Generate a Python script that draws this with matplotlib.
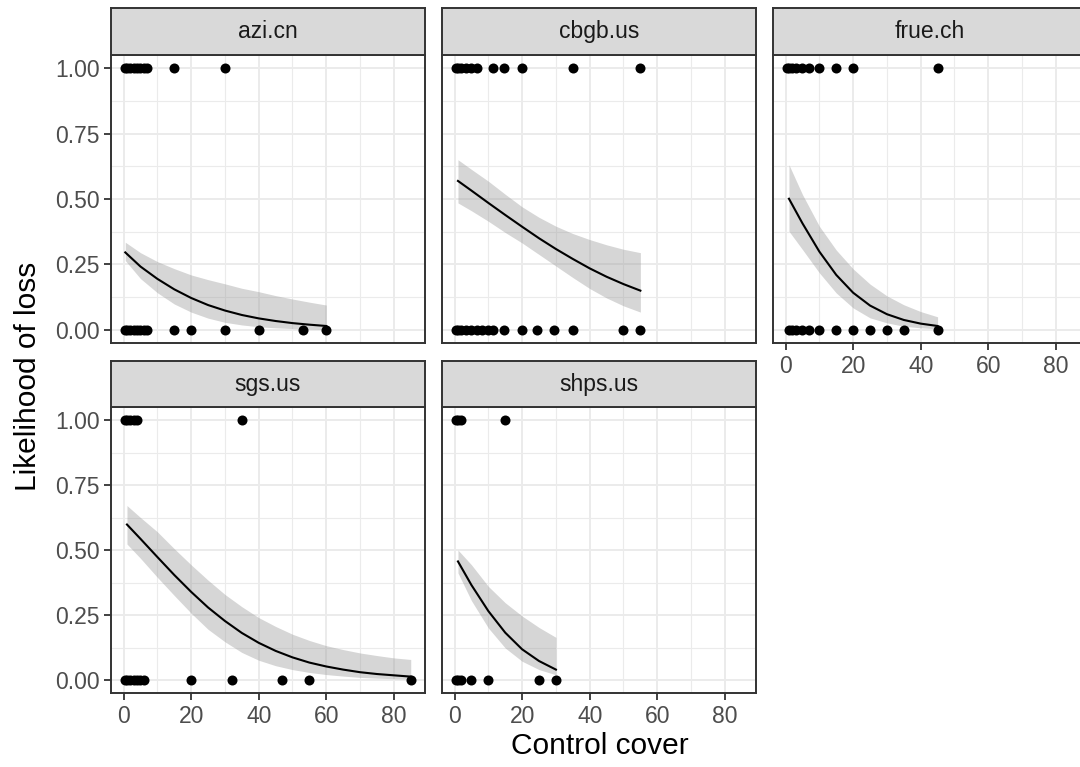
import matplotlib
matplotlib.use("Agg")
import matplotlib.pyplot as plt

plt.rcParams["font.family"] = ["Liberation Sans", "DejaVu Sans"]

# ── data (cover values; loss = 1 / kept = 0) ──
facets = ["azi.cn", "cbgb.us", "frue.ch", "sgs.us", "shps.us"]

azi_loss = [0.5, 1, 2, 3, 4, 5, 6, 7, 15, 30]
azi_kept = [0.5, 1, 2, 3, 4, 5, 6, 7, 15, 20, 30, 40, 53, 60]
cbgb_loss = [0.5, 1, 2, 3.5, 5, 6.5, 11.5, 14.5, 20, 35, 55]
cbgb_kept = [0.5, 1, 2, 3.5, 5, 6.5, 8, 10, 11.5, 14.5, 20, 24.5, 29.5, 35, 50, 55]
frue_loss = [0.5, 1, 2, 3, 5, 7, 10, 15, 20, 45]
frue_kept = [1, 2, 3, 5, 7, 10, 15, 20, 25, 30, 35, 45]
sgs_loss = [0.5, 1, 2, 3, 4, 35]
sgs_kept = [0.5, 1, 2, 3, 4, 5, 6, 20, 32, 47, 55, 85]
shps_loss = [0.5, 1, 2, 15]
shps_kept = [0.5, 1, 2, 5, 10, 25, 30]

# fitted glm curve + 95% band, read at 5-unit steps
azi_fx = [0.5, 5, 10, 15, 20, 25, 30, 35, 40, 45, 50, 55, 60]
azi_fit = [0.296, 0.242, 0.195, 0.155, 0.122, 0.095, 0.074, 0.057, 0.044, 0.034, 0.026, 0.020, 0.015]
azi_hi = [0.335, 0.295, 0.261, 0.234, 0.210, 0.192, 0.176, 0.159, 0.146, 0.131, 0.118, 0.106, 0.095]
azi_lo = [0.265, 0.196, 0.142, 0.099, 0.068, 0.045, 0.029, 0.019, 0.012, 0.008, 0.005, 0.003, 0.002]

cbgb_fx = [1, 5, 10, 15, 20, 25, 30, 35, 40, 45, 50, 55]
cbgb_fit = [0.569, 0.532, 0.485, 0.439, 0.394, 0.350, 0.309, 0.271, 0.235, 0.203, 0.175, 0.150]
cbgb_hi = [0.650, 0.613, 0.568, 0.518, 0.470, 0.430, 0.396, 0.368, 0.345, 0.325, 0.308, 0.295]
cbgb_lo = [0.485, 0.455, 0.415, 0.372, 0.332, 0.288, 0.244, 0.200, 0.158, 0.122, 0.092, 0.068]

frue_fx = [1, 5, 10, 15, 20, 25, 30, 35, 40, 45]
frue_fit = [0.501, 0.407, 0.299, 0.210, 0.142, 0.093, 0.060, 0.038, 0.024, 0.015]
frue_hi = [0.631, 0.517, 0.396, 0.305, 0.233, 0.175, 0.130, 0.096, 0.070, 0.050]
frue_lo = [0.377, 0.307, 0.218, 0.141, 0.084, 0.046, 0.027, 0.014, 0.008, 0.004]

sgs_fx = [1, 5, 10, 15, 20, 25, 30, 35, 40, 45, 50, 55, 60, 65, 70, 75, 80, 85]
sgs_fit = [0.598, 0.543, 0.473, 0.404, 0.339, 0.279, 0.227, 0.181, 0.143, 0.112,
           0.087, 0.067, 0.052, 0.040, 0.030, 0.023, 0.018, 0.013]
sgs_hi = [0.671, 0.625, 0.570, 0.505, 0.443, 0.384, 0.329, 0.282, 0.240, 0.206,
          0.176, 0.152, 0.132, 0.117, 0.104, 0.094, 0.085, 0.079]
sgs_lo = [0.523, 0.468, 0.395, 0.325, 0.257, 0.195, 0.147, 0.106, 0.076, 0.055,
          0.040, 0.029, 0.021, 0.015, 0.010, 0.007, 0.005, 0.004]

shps_fx = [1, 5, 10, 15, 20, 25, 30]
shps_fit = [0.456, 0.365, 0.265, 0.182, 0.118, 0.073, 0.040]
shps_hi = [0.500, 0.443, 0.360, 0.297, 0.246, 0.202, 0.164]
shps_lo = [0.412, 0.305, 0.200, 0.123, 0.072, 0.040, 0.020]

x_ticks = [0, 20, 40, 60, 80]
y_ticks = [0.0, 0.25, 0.5, 0.75, 1.0]
y_labels = ["0.00", "0.25", "0.50", "0.75", "1.00"]

panels = [
    (azi_loss, azi_kept, azi_fx, azi_fit, azi_lo, azi_hi),
    (cbgb_loss, cbgb_kept, cbgb_fx, cbgb_fit, cbgb_lo, cbgb_hi),
    (frue_loss, frue_kept, frue_fx, frue_fit, frue_lo, frue_hi),
    (sgs_loss, sgs_kept, sgs_fx, sgs_fit, sgs_lo, sgs_hi),
    (shps_loss, shps_kept, shps_fx, shps_fit, shps_lo, shps_hi),
]

# ── layout in pixels (1080 x 767) ──
W, H = 1080, 767
COLS = [111, 442, 773]
PW = 314
ROWS = [(8, 47, 288), (361, 46, 286)]  # strip top, strip height, panel height
DARK = "#333333"


def rect(l, t, w, h):
    return [l / W, 1 - (t + h) / H, w / W, h / H]


fig = plt.figure(figsize=(W / 100, H / 100), dpi=100)

for i, name in enumerate(facets):
    r, c = divmod(i, 3)
    st, sh, ph = ROWS[r]
    left = COLS[c]
    loss, kept, fx, fit, lo, hi = panels[i]

    ax = fig.add_axes(rect(left, st + sh, PW, ph))
    ax.set_xlim(-3.725, 89.225)
    ax.set_ylim(-0.05, 1.05)
    ax.set_xticks(x_ticks)
    ax.set_xticks([10, 30, 50, 70], minor=True)
    ax.set_yticks(y_ticks)
    ax.set_yticklabels(y_labels)
    ax.set_yticks([0.125, 0.375, 0.625, 0.875], minor=True)
    ax.grid(which="major", color="#EBEBEB", lw=1.4)
    ax.grid(which="minor", color="#EBEBEB", lw=0.8)
    ax.set_axisbelow(True)
    ax.tick_params(which="minor", length=0)
    ax.tick_params(which="major", length=5.3, width=1.3, color=DARK,
                   labelcolor="#4D4D4D", labelsize=16.5, pad=3)
    for s in ax.spines.values():
        s.set_color(DARK)
        s.set_linewidth(1.4)

    show_x = (r == 1) or (c == 2)
    if not show_x:
        ax.tick_params(axis="x", bottom=False, labelbottom=False)
    if c != 0:
        ax.tick_params(axis="y", left=False, labelleft=False)

    ax.fill_between(fx, lo, hi, color="#999999", alpha=0.4, lw=0, zorder=2)
    ax.plot(fx, fit, color="black", lw=1.5, zorder=3)
    ax.scatter(loss, [1] * len(loss), s=52, color="black", lw=0, zorder=4)
    ax.scatter(kept, [0] * len(kept), s=52, color="black", lw=0, zorder=4)

    sax = fig.add_axes(rect(left, st, PW, sh))
    sax.set_facecolor("#D9D9D9")
    sax.set_xticks([]); sax.set_yticks([])
    for s in sax.spines.values():
        s.set_color(DARK)
        s.set_linewidth(1.4)
    sax.text(0.5, 0.5, name, ha="center", va="center", fontsize=16.5,
             color="#1A1A1A", transform=sax.transAxes)

fig.text(28 / W, 1 - 376 / H, "Likelihood of loss", rotation=90,
         ha="center", va="center", fontsize=21.5, color="black")
fig.text(600 / W, 1 - 746 / H, "Control cover", ha="center", va="center",
         fontsize=21.5, color="black")

fig.savefig("out.png", dpi=100, facecolor="white")
